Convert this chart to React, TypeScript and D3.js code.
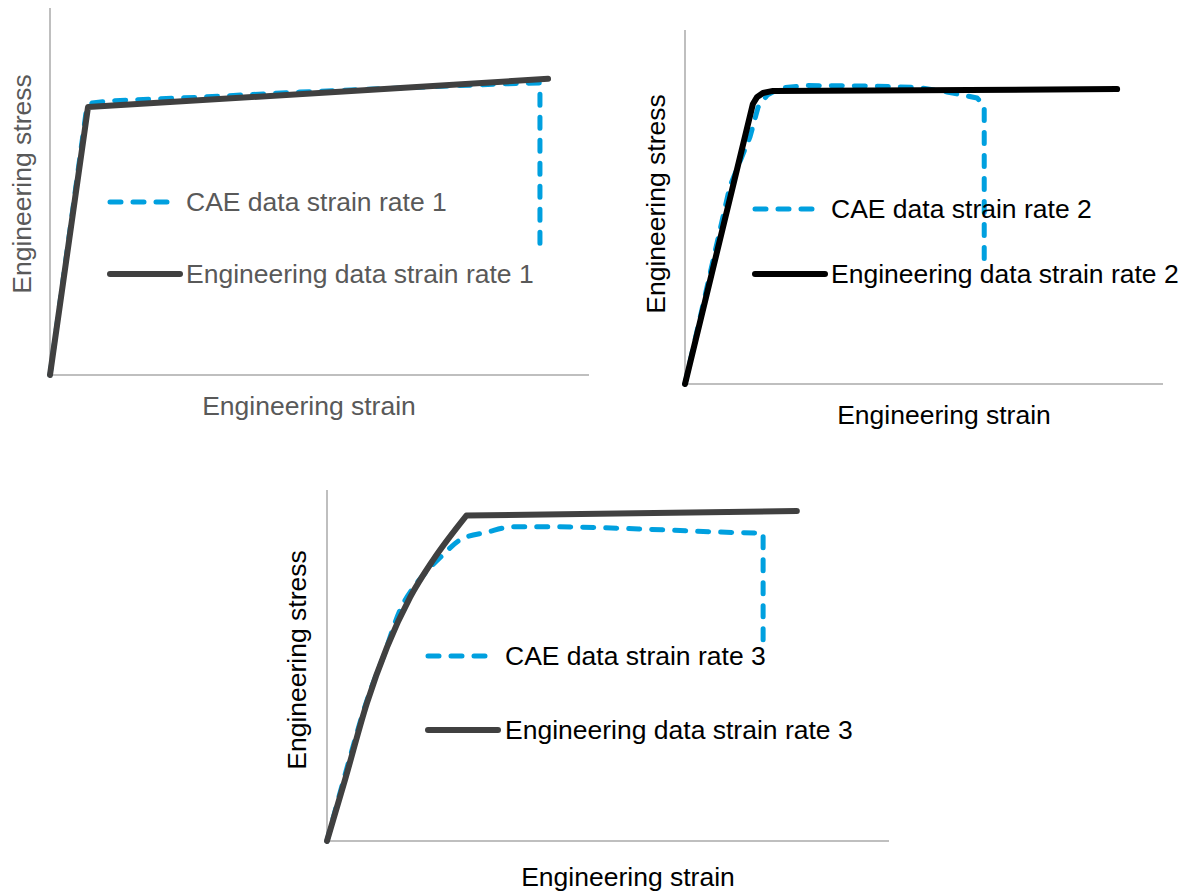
import React from "react";
import * as d3 from "d3";

// ---------- data (arbitrary units, 0..100 on both axes) ----------
const engStrain1 = [0, 7.05, 92.4];
const engStress1 = [0, 73.0, 80.7];
const caeStrain1 = [0, 3.7, 6.7, 7.8, 11.1, 27.8, 46.4, 64.9, 83.5, 90.9, 90.9];
const caeStress1 = [0, 39.5, 71.7, 74.1, 74.7, 75.7, 77.1, 78.2, 79.3, 79.6, 33.5];

const engStrain2 = [0, 14.2, 15.1, 16.3, 18.4, 90.4];
const engStress2 = [0, 79.1, 81.1, 82.2, 82.8, 83.3];
const caeStrain2 = [0, 9.4, 13.6, 15.3, 17.2, 19.9, 25.5, 37.2, 48.5, 54.8, 61.1, 62.6, 62.6];
const caeStress2 = [0, 55.9, 69.8, 78.2, 81.6, 83.6, 84.3, 84.2, 83.8, 82.5, 80.8, 78.5, 33.1];

const engStrain3 = [0, 3.2, 7.1, 10.7, 14.8, 18.9, 24.8, 83.6];
const engStress3 = [0, 17.4, 39.3, 55.3, 69.5, 80.1, 92.7, 94.0];
const caeStrain3 = [0, 3.2, 7.3, 10.0, 13.0, 16.0, 18.3, 20.6, 23.7, 28.5, 33.1, 40.9, 55.5, 70.1, 77.6, 77.6];
const caeStress3 = [0, 18.8, 41.0, 52.4, 65.8, 73.5, 77.8, 81.5, 85.8, 88.0, 89.5, 89.5, 88.9, 88.0, 87.7, 55.0];

const xAxisTitle = "Engineering strain";
const yAxisTitle = "Engineering stress";
const caeLabels = ["CAE data strain rate 1", "CAE data strain rate 2", "CAE data strain rate 3"];
const engLabels = [
  "Engineering data strain rate 1",
  "Engineering data strain rate 2",
  "Engineering data strain rate 3",
];

// ---------- layout ----------
type Panel = {
  x0: number; x1: number; y0: number; y1: number;
  engX: number[]; engY: number[]; caeX: number[]; caeY: number[];
  engColor: string; textColor: string; smooth: boolean;
  legX: number; legDashY: number; legSolidY: number; legTextX: number;
  yLabX: number; yLabY: number; xLabX: number; xLabY: number;
  cae: string; eng: string;
};

const panels: Panel[] = [
  {
    x0: 50, x1: 589, y0: 375, y1: 8,
    engX: engStrain1, engY: engStress1, caeX: caeStrain1, caeY: caeStress1,
    engColor: "#404040", textColor: "#595959", smooth: false,
    legX: 110, legDashY: 202, legSolidY: 274, legTextX: 186,
    yLabX: 22, yLabY: 184, xLabX: 309, xLabY: 406,
    cae: caeLabels[0], eng: engLabels[0],
  },
  {
    x0: 685, x1: 1163, y0: 384, y1: 30,
    engX: engStrain2, engY: engStress2, caeX: caeStrain2, caeY: caeStress2,
    engColor: "#000000", textColor: "#000000", smooth: false,
    legX: 755, legDashY: 209, legSolidY: 274, legTextX: 831,
    yLabX: 656, yLabY: 204, xLabX: 944, xLabY: 415,
    cae: caeLabels[1], eng: engLabels[1],
  },
  {
    x0: 327, x1: 889, y0: 841, y1: 490,
    engX: engStrain3, engY: engStress3, caeX: caeStrain3, caeY: caeStress3,
    engColor: "#404040", textColor: "#000000", smooth: true,
    legX: 428, legDashY: 656, legSolidY: 730, legTextX: 505,
    yLabX: 297, yLabY: 660, xLabX: 628, xLabY: 877,
    cae: caeLabels[2], eng: engLabels[2],
  },
];

const CAE_COLOR = "#00A0DF";
const AXIS_COLOR = "#BFBFBF";
const FONT = "'Liberation Sans', Arial, sans-serif";
const FS = 26.5;

function ChartPanel({ p }: { p: Panel }) {
  const x = d3.scaleLinear().domain([0, 100]).range([p.x0, p.x1]);
  const y = d3.scaleLinear().domain([0, 100]).range([p.y0, p.y1]);
  const mk = (smooth: boolean) =>
    d3
      .line<[number, number]>()
      .x((d) => x(d[0]))
      .y((d) => y(d[1]))
      .curve(smooth ? d3.curveMonotoneX : d3.curveLinear);
  const engPts = p.engX.map((v, i) => [v, p.engY[i]] as [number, number]);
  const caePts = p.caeX.map((v, i) => [v, p.caeY[i]] as [number, number]);
  // smooth part of each curve, then the last segment drawn straight
  const build = (pts: [number, number][]) => {
    const main = pts.slice(0, -1);
    const last = pts[pts.length - 1];
    return (mk(p.smooth)(main) || "") + `L${x(last[0])},${y(last[1])}`;
  };
  const caePath = build(caePts);
  const engPath = build(engPts);
  return (
    <g>
      <line x1={p.x0} x2={p.x0} y1={p.y0} y2={p.y1} stroke={AXIS_COLOR} strokeWidth={2} />
      <line x1={p.x0} x2={p.x1} y1={p.y0} y2={p.y0} stroke={AXIS_COLOR} strokeWidth={2} />
      <path
        d={caePath}
        fill="none"
        stroke={CAE_COLOR}
        strokeWidth={5}
        strokeDasharray="11 12"
        strokeLinecap="round"
        strokeLinejoin="round"
      />
      <path
        d={engPath}
        fill="none"
        stroke={p.engColor}
        strokeWidth={6}
        strokeLinecap="round"
        strokeLinejoin="round"
      />
      <line
        x1={p.legX} x2={p.legX + 66} y1={p.legDashY} y2={p.legDashY}
        stroke={CAE_COLOR} strokeWidth={5} strokeDasharray="11 12" strokeLinecap="round"
      />
      <line
        x1={p.legX} x2={p.legX + 70} y1={p.legSolidY} y2={p.legSolidY}
        stroke={p.engColor} strokeWidth={6} strokeLinecap="round"
      />
      <g fontFamily={FONT} fontSize={FS} fill={p.textColor}>
        <text x={p.legTextX} y={p.legDashY + 9}>{p.cae}</text>
        <text x={p.legTextX} y={p.legSolidY + 9}>{p.eng}</text>
        <text x={p.xLabX} y={p.xLabY + 9} textAnchor="middle">{xAxisTitle}</text>
        <text
          transform={`translate(${p.yLabX + 9},${p.yLabY}) rotate(-90)`}
          textAnchor="middle"
        >
          {yAxisTitle}
        </text>
      </g>
    </g>
  );
}

export default function App() {
  return (
    <svg
      width={1189}
      height={893}
      style={{ position: "absolute", left: 0, top: 0, background: "#fff" }}
    >
      <rect width={1189} height={893} fill="#fff" />
      {panels.map((p, i) => (
        <ChartPanel key={i} p={p} />
      ))}
    </svg>
  );
}
